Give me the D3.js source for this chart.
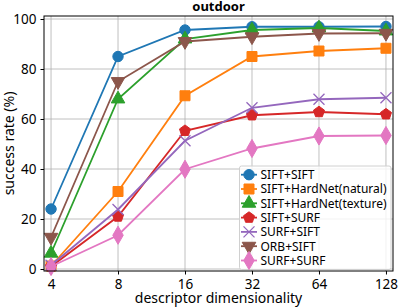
<!DOCTYPE html>
<html>
<head>
<meta charset="utf-8">
<script src="https://cdn.jsdelivr.net/npm/d3@7"></script>
<style>
  body { margin: 0; background: #fff; }
  text { font-family: "Noto Sans", "DejaVu Sans", sans-serif; }
</style>
</head>
<body>
<div id="chart"></div>
<script>
const dims = [4, 8, 16, 32, 64, 128];
const yTicks = [0, 20, 40, 60, 80, 100];
const names = ["SIFT+SIFT", "SIFT+HardNet(natural)", "SIFT+HardNet(texture)", "SIFT+SURF", "SURF+SIFT", "ORB+SIFT", "SURF+SURF"];
const colors = ["#1f77b4", "#ff7f0e", "#2ca02c", "#d62728", "#9467bd", "#8c564b", "#e377c2"];
const symbols = ["circle", "square", "triangle", "pentagon", "x", "tridown", "diamond"];
const siftSift = [24, 85, 95.6, 96.9, 96.9, 97];
const hardNetNatural = [1.2, 31, 69.3, 85, 87.2, 88.3];
const hardNetTexture = [6.3, 68, 92, 95.6, 96.4, 95.2];
const siftSurf = [1, 21, 55.3, 61.5, 62.8, 61.9];
const surfSift = [1.5, 23.8, 51.3, 64.5, 67.9, 68.5];
const orbSift = [12.7, 75, 91, 92.9, 94.2, 94.3];
const surfSurf = [1, 13.5, 39.9, 48.2, 53.2, 53.4];
const series = [siftSift, hardNetNatural, hardNetTexture, siftSurf, surfSift, orbSift, surfSurf];

let w = 398;
let h = 307;
let mLeft = 44, mRight = 393, mTop = 16, mBottom = 271;

let svg = d3.select("#chart")
    .append("svg")
    .attr("width", w)
    .attr("height", h);

let x = d3.scaleLog().base(2)
    .domain([4 / Math.pow(2, 0.105), 128 * Math.pow(2, 0.105)])
    .range([mLeft, mRight]);
let y = d3.scaleLinear()
    .domain([-0.8, 101.2])
    .range([mBottom, mTop]);

// grid
svg.append("g").selectAll("line")
    .data(dims)
    .enter().append("line")
    .attr("x1", d => x(d)).attr("x2", d => x(d))
    .attr("y1", mTop).attr("y2", mBottom)
    .attr("stroke", "#b0b0b0").attr("stroke-width", 0.8);
svg.append("g").selectAll("line")
    .data(yTicks)
    .enter().append("line")
    .attr("y1", d => y(d)).attr("y2", d => y(d))
    .attr("x1", mLeft).attr("x2", mRight)
    .attr("stroke", "#b0b0b0").attr("stroke-width", 0.8);

// axes
let xAxis = d3.axisBottom(x).tickValues(dims).tickFormat(d3.format("d")).tickSize(3.5).tickPadding(5);
let yAxis = d3.axisLeft(y).tickValues(yTicks).tickSize(3.5).tickPadding(4);
let gx = svg.append("g").attr("transform", `translate(0,${mBottom})`).call(xAxis);
let gy = svg.append("g").attr("transform", `translate(${mLeft},0)`).call(yAxis);
[gx, gy].forEach(g => {
    g.select(".domain").remove();
    g.selectAll("text").attr("font-size", "13.5px").attr("fill", "#000")
        .style("font-family", '"Noto Sans", sans-serif');
});

function symbolPath(s) {
    if (s === "circle") return d3.symbol(d3.symbolCircle, 85)();
    if (s === "square") return d3.symbol(d3.symbolSquare, 100)();
    if (s === "triangle") return d3.symbol(d3.symbolTriangle, 80)();
    if (s === "tridown") return d3.symbol(d3.symbolTriangle, 80)();
    if (s === "diamond") return d3.symbol(d3.symbolDiamond, 95)();
    if (s === "x") return "M-5.5,-5.5L5.5,5.5M-5.5,5.5L5.5,-5.5";
    if (s === "pentagon") {
        let r = 5.8;
        return d3.range(5).map(i => {
            let a = -Math.PI / 2 + i * 2 * Math.PI / 5;
            return (i ? "L" : "M") + (r * Math.cos(a)).toFixed(2) + "," + (r * Math.sin(a)).toFixed(2);
        }).join("") + "Z";
    }
    return d3.symbol(d3.symbolCircle, 70)();
}

function drawMarker(g, s, c, cx, cy) {
    let p = g.append("path")
        .attr("d", symbolPath(s))
        .attr("transform", `translate(${cx},${cy})` + (s === "tridown" ? " rotate(180)" : ""));
    if (s === "x") p.attr("fill", "none").attr("stroke", c).attr("stroke-width", 1.3);
    else p.attr("fill", c).attr("stroke", c).attr("stroke-width", 1);
}

let line = d3.line().x((d, i) => x(dims[i])).y(d => y(d));

let plot = svg.append("g");
series.forEach((vals, k) => {
    plot.append("path")
        .datum(vals)
        .attr("d", line)
        .attr("fill", "none")
        .attr("stroke", colors[k])
        .attr("stroke-width", 1.8);
    vals.forEach((v, i) => drawMarker(plot, symbols[k], colors[k], x(dims[i]), y(v)));
});

// frame
svg.append("rect")
    .attr("x", mLeft).attr("y", mTop)
    .attr("width", mRight - mLeft).attr("height", mBottom - mTop)
    .attr("fill", "none").attr("stroke", "#000").attr("stroke-width", 1);

// legend
let lg = svg.append("g");
lg.append("rect")
    .attr("x", 239.5).attr("y", 166)
    .attr("width", 151.5).attr("height", 103.5)
    .attr("rx", 2)
    .attr("fill", "#fff").attr("fill-opacity", 0.8)
    .attr("stroke", "#d0d0d0");
names.forEach((n, k) => {
    let ly = 174.7 + k * 14.3;
    lg.append("line")
        .attr("x1", 241).attr("x2", 257)
        .attr("y1", ly).attr("y2", ly)
        .attr("stroke", colors[k]).attr("stroke-width", 1.8);
    drawMarker(lg, symbols[k], colors[k], 249, ly);
    lg.append("text")
        .attr("x", 260.5).attr("y", ly + 4.3)
        .attr("font-size", "12px")
        .attr("fill", "#000")
        .text(n);
});

// titles
svg.append("text")
    .attr("x", (mLeft + mRight) / 2).attr("y", 11)
    .attr("text-anchor", "middle")
    .attr("font-size", "13px").attr("font-weight", "bold")
    .text("outdoor");
svg.append("text")
    .attr("x", (mLeft + mRight) / 2).attr("y", 303)
    .attr("text-anchor", "middle")
    .attr("font-size", "14px")
    .text("descriptor dimensionality");
svg.append("text")
    .attr("transform", `translate(14,${(mTop + mBottom) / 2}) rotate(-90)`)
    .attr("text-anchor", "middle")
    .attr("font-size", "14px")
    .text("success rate (%)");
</script>
</body>
</html>
